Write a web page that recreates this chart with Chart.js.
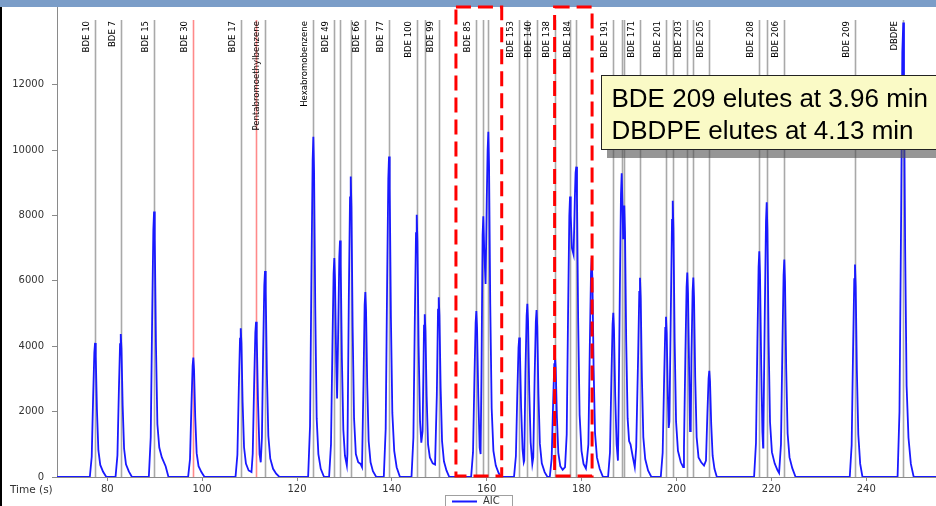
<!DOCTYPE html>
<html>
<head>
<meta charset="utf-8">
<title>AIC</title>
<script src="https://cdn.jsdelivr.net/npm/chart.js@4/dist/chart.umd.min.js"></script>
<style>
  html, body { margin: 0; padding: 0; background: #fff; }
  #wrap { width: 936px; height: 506px; }
</style>
</head>
<body>
<div id="wrap"><canvas id="chart" width="936" height="506"></canvas></div>
<script>
// axis ticks
const xTicks = [80, 100, 120, 140, 160, 180, 200, 220, 240];
const yTicks = [0, 2000, 4000, 6000, 8000, 10000, 12000];

// compound retention times (s) and their labels ('' = unlabelled line)
const markerTimes = [77.42, 82.84, 89.86, 98.14, 108.13, 111.36, 113.25, 123.44, 127.86, 129.06,
  131.32, 134.40, 139.39, 145.23, 146.92, 149.87, 157.80, 159.27, 160.33, 166.84,
  168.55, 170.49, 174.38, 177.55, 178.87, 186.67, 188.44, 188.99, 192.30, 197.78,
  199.20, 202.27, 203.54, 206.91, 217.45, 219.01, 222.72, 237.62, 247.80];
const markerLabels = ['BDE 10', 'BDE 7', 'BDE 15', 'BDE 30', 'BDE 17', '', 'Pentabromoethylbenzene', 'Hexabromobenzene', 'BDE 49', '',
  '', 'BDE 66', 'BDE 77', 'BDE 100', '', 'BDE 99', 'BDE 85', '', '', 'BDE 153',
  '', 'BDE 140', 'BDE 138', '', 'BDE 184', 'BDE 191', '', '', 'BDE 171', 'BDE 201',
  '', 'BDE 203', '', 'BDE 205', 'BDE 208', '', 'BDE 206', 'BDE 209', 'DBDPE'];
const redMarkerTimes = [98.14, 111.36];

// highlighted windows (s)
const highlightRanges = [[153.5, 163.15], [174.3, 182.2]];

const noteLines = ['BDE 209 elutes at 3.96 min', 'DBDPE elutes at 4.13 min'];

// AIC trace: [time (s), counts]
const aicTrace = [
  [69.4, 0],
  // BDE 10, 7, 15, 30
  [76.32, 0], [76.72, 620], [77.02, 2460], [77.27, 3810], [77.42, 4100], [77.57, 3690], [77.82, 2050], [78.12, 820], [78.52, 370], [79.12, 160], [79.8, 0],
  [81.74, 0], [82.14, 660], [82.44, 2620], [82.69, 4060], [82.84, 4370], [82.99, 3930], [83.24, 2190], [83.54, 870], [83.94, 390], [84.54, 170], [85.2, 0],
  [88.76, 0], [89.16, 1220], [89.46, 4870], [89.71, 7550], [89.86, 8120], [90.01, 7300], [90.26, 4060], [90.56, 1620], [90.96, 900], [91.5, 600], [92.3, 330], [92.9, 0],
  [97.04, 0], [97.44, 550], [97.74, 2190], [97.99, 3400], [98.14, 3650], [98.29, 3290], [98.54, 1830], [98.84, 730], [99.24, 330], [99.84, 150], [100.5, 0],
  // BDE 17 / pentabromoethylbenzene
  [107.03, 0], [107.43, 680], [107.73, 2730], [107.98, 4230], [108.13, 4550], [108.28, 4100], [108.53, 2280], [108.83, 910], [109.23, 410], [109.8, 200], [110.4, 150],
  [110.66, 710], [110.96, 2850], [111.21, 4420], [111.36, 4750], [111.51, 4280], [111.76, 2380], [112.1, 700], [112.35, 450],
  [112.6, 1200], [112.85, 3800], [113.1, 5860], [113.25, 6300], [113.4, 5670], [113.65, 3150], [113.95, 1260], [114.35, 570], [114.95, 250], [115.6, 100], [116.3, 0],
  // hexabromobenzene
  [122.34, 0], [122.74, 1560], [123.04, 6240], [123.29, 9680], [123.44, 10405], [123.59, 9360], [123.84, 5200], [124.14, 1800], [124.5, 700], [125.0, 250], [125.7, 0],
  // BDE 49 .. BDE 66
  [126.76, 0], [127.16, 1000], [127.46, 4000], [127.71, 6230], [127.86, 6700], [128.01, 6030], [128.26, 3500], [128.45, 2400],
  [128.66, 4300], [128.91, 6720], [129.06, 7230], [129.21, 6500], [129.46, 3600], [129.76, 1450], [130.1, 650], [130.5, 350],
  [130.62, 700], [130.92, 5500], [131.17, 8550], [131.32, 9190], [131.47, 8270], [131.72, 4600], [132.02, 1800], [132.4, 700],
  [132.9, 450], [133.4, 400], [133.7, 300], [134.0, 2800], [134.25, 5260], [134.4, 5660], [134.55, 5100], [134.8, 2830],
  [135.1, 1100], [135.5, 450], [136.0, 180], [136.7, 0],
  // BDE 77
  [138.29, 0], [138.69, 1470], [138.99, 5880], [139.24, 9110], [139.39, 9800], [139.54, 8820], [139.79, 4900], [140.09, 1960], [140.49, 800], [141.0, 300], [141.7, 0],
  // BDE 100 / 99
  [144.13, 0], [144.53, 1200], [144.83, 4810], [145.08, 7460], [145.23, 8020], [145.38, 7220], [145.63, 4010], [145.93, 1700],
  [146.2, 1050], [146.47, 1400], [146.77, 4630], [146.92, 4975], [147.07, 4480], [147.32, 2490], [147.62, 1000], [148.0, 600],
  [148.6, 420], [149.1, 380], [149.47, 2500], [149.72, 5120], [149.87, 5500], [150.02, 4950], [150.27, 2750], [150.57, 1100],
  [150.97, 480], [151.5, 200], [152.1, 0],
  // BDE 85 window
  [156.7, 0], [157.1, 760], [157.4, 3050], [157.65, 4720], [157.8, 5076], [157.95, 4570], [158.2, 2540], [158.5, 900],
  [158.7, 700], [158.87, 3000], [159.12, 7400], [159.27, 7970], [159.45, 7000], [159.75, 5900], [160.0, 8500], [160.18, 10000],
  [160.33, 10560], [160.48, 9500], [160.73, 5300], [161.03, 2100], [161.4, 800], [161.9, 350], [162.5, 120], [163.0, 0],
  // BDE 153 / 140
  [165.74, 0], [166.14, 640], [166.44, 2560], [166.69, 3960], [166.84, 4263], [166.99, 3840], [167.24, 2130], [167.54, 850],
  [167.8, 450], [167.9, 500], [168.15, 3200], [168.4, 4930], [168.55, 5300], [168.7, 4770], [168.95, 2650], [169.25, 1060],
  [169.6, 400], [169.8, 600], [170.09, 3060], [170.34, 4750], [170.49, 5106], [170.64, 4600], [170.89, 2550], [171.19, 1020],
  [171.6, 420], [172.2, 150], [172.8, 0],
  // BDE 138 / 184 window
  [173.28, 0], [173.68, 560], [173.98, 2220], [174.23, 3450], [174.38, 3706], [174.53, 3340], [174.78, 1850], [175.08, 740],
  [175.5, 330], [176.0, 220], [176.5, 300], [176.85, 1300], [177.15, 5150], [177.4, 7980], [177.55, 8578], [177.7, 8000],
  [177.95, 7000], [178.3, 6800], [178.58, 8600], [178.72, 9300], [178.87, 9491], [179.02, 8540], [179.27, 4750], [179.57, 1900],
  [179.97, 800], [180.4, 400], [180.9, 260], [181.1, 500], [181.42, 1000], [181.72, 4000], [181.97, 6230], [182.12, 6700],
  [182.27, 6030], [182.52, 3350], [182.82, 1340], [183.22, 600], [183.8, 250], [184.5, 0],
  // BDE 191 / 171
  [185.57, 0], [185.97, 750], [186.27, 3010], [186.52, 4670], [186.67, 5024], [186.82, 4520], [187.07, 2510], [187.37, 1000],
  [187.65, 500], [187.74, 1400], [188.04, 5570], [188.29, 8640], [188.44, 9287], [188.6, 8400], [188.75, 7300], [188.88, 7900],
  [188.99, 8300], [189.14, 7500], [189.39, 4200], [189.69, 1800], [190.0, 1100], [190.3, 1000], [190.8, 600], [191.2, 300],
  [191.5, 900], [191.9, 3650], [192.15, 5660], [192.3, 6090], [192.45, 5480], [192.7, 3050], [193.0, 1220], [193.4, 550],
  [194.0, 200], [194.7, 0],
  // BDE 201 .. 205
  [196.68, 0], [197.08, 740], [197.38, 2940], [197.63, 4560], [197.78, 4900], [197.93, 4410], [198.18, 2450], [198.35, 1500],
  [198.5, 1700], [198.8, 5070], [199.05, 7860], [199.2, 8450], [199.35, 7600], [199.6, 4230], [199.9, 1700], [200.3, 800],
  [200.9, 450], [201.4, 300], [201.57, 900], [201.87, 3750], [202.12, 5810], [202.27, 6250], [202.42, 5630], [202.67, 3130],
  [202.85, 1400], [203.0, 1500], [203.14, 3660], [203.39, 5670], [203.54, 6100], [203.69, 5490], [203.94, 3050], [204.24, 1220],
  [204.64, 600], [205.2, 450], [205.8, 350], [206.21, 500], [206.51, 1950], [206.76, 3020], [206.91, 3250], [207.06, 2930],
  [207.31, 1630], [207.61, 650], [208.0, 250], [208.5, 0],
  // BDE 208 / 206
  [216.35, 0], [216.75, 1040], [217.05, 4140], [217.3, 6420], [217.45, 6900], [217.6, 6210], [217.85, 3450], [218.1, 1400],
  [218.25, 900], [218.31, 1260], [218.61, 5040], [218.86, 7810], [219.01, 8400], [219.16, 7560], [219.41, 4200], [219.71, 1680],
  [220.11, 760], [220.7, 410], [221.3, 200], [221.62, 120], [222.02, 1000], [222.32, 3990], [222.57, 6180], [222.72, 6650],
  [222.87, 5990], [223.12, 3330], [223.42, 1330], [223.82, 600], [224.4, 270], [225.1, 0],
  // BDE 209
  [236.52, 0], [236.92, 980], [237.22, 3900], [237.47, 6050], [237.62, 6500], [237.77, 5850], [238.02, 3250], [238.32, 1300], [238.72, 400], [239.2, 0],
  // DBDPE
  [246.6, 0], [247.0, 2000], [247.35, 8000], [247.6, 13000], [247.8, 13900], [247.95, 12000], [248.2, 6950], [248.5, 2800],
  [248.9, 1200], [249.4, 400], [250.0, 0],
  [254.7, 0]
];

const TRACE_BLUE = 'rgb(25,25,255)';
const AXIS_GREY = '#8a8a8a';

// page frame: header strip, dark left edge, y axis line running up to the strip
const framePlugin = {
  id: 'frame',
  beforeDraw(chart) {
    const c = chart.ctx, area = chart.chartArea;
    c.save();
    c.fillStyle = '#fff';
    c.fillRect(0, 0, chart.width, chart.height);
    c.fillStyle = '#7b9dc8';
    c.fillRect(0, 0, chart.width, 7);
    c.fillStyle = '#000';
    c.fillRect(0, 7, 2, chart.height - 7);
    c.strokeStyle = AXIS_GREY;
    c.lineWidth = 1;
    c.beginPath();
    c.moveTo(area.left + 0.5, 7);
    c.lineTo(area.left + 0.5, area.top + 1);
    c.stroke();
    c.restore();
  }
};

// vertical retention-time lines with rotated compound names
const markerPlugin = {
  id: 'markers',
  beforeDatasetsDraw(chart) {
    const c = chart.ctx, xs = chart.scales.x, ys = chart.scales.y;
    const top = 20, bottom = ys.getPixelForValue(0);
    c.save();
    markerTimes.forEach((t, i) => {
      const x = Math.round(xs.getPixelForValue(t)) + 0.5;
      const red = redMarkerTimes.includes(t);
      c.strokeStyle = red ? '#ff8a8a' : '#a9a9a9';
      c.lineWidth = 1.6;
      c.beginPath();
      c.moveTo(x, top);
      c.lineTo(x, bottom);
      c.stroke();
      if (markerLabels[i]) {
        c.save();
        c.translate(x - 9, top + 1);
        c.rotate(-Math.PI / 2);
        c.font = '9.5px "DejaVu Sans Condensed", "DejaVu Sans", sans-serif';
        c.fillStyle = '#000';
        c.textAlign = 'right';
        c.textBaseline = 'middle';
        c.fillText(markerLabels[i], 0, 0);
        c.restore();
      }
    });
    c.restore();
  }
};

// dashed highlight windows, note box, axis caption and legend
const overlayPlugin = {
  id: 'overlay',
  afterDatasetsDraw(chart) {
    const c = chart.ctx, xs = chart.scales.x, area = chart.chartArea;
    c.save();

    c.strokeStyle = '#ff0000';
    c.lineWidth = 3;
    c.setLineDash([15, 7]);
    highlightRanges.forEach(([a, b]) => {
      const x1 = xs.getPixelForValue(a), x2 = xs.getPixelForValue(b);
      c.strokeRect(x1, 7, x2 - x1, area.bottom - 8);
    });
    c.setLineDash([]);

    // note box
    c.fillStyle = 'rgba(80,80,80,0.6)';
    c.fillRect(607, 150, 340, 8);
    c.fillStyle = '#fafac6';
    c.fillRect(601.5, 75.5, 340, 74);
    c.strokeStyle = '#222';
    c.lineWidth = 1;
    c.strokeRect(601.5, 75.5, 340, 74);
    c.fillStyle = '#000';
    c.font = '26px "Liberation Sans", Arial, sans-serif';
    c.textAlign = 'left';
    c.textBaseline = 'alphabetic';
    c.fillText(noteLines[0], 611.5, 107);
    c.fillText(noteLines[1], 611.5, 138.5);

    // axis caption
    c.font = '10.5px "DejaVu Sans", sans-serif';
    c.fillStyle = '#333';
    c.textBaseline = 'middle';
    c.fillText('Time (s)', 10, 490);

    // legend
    c.fillStyle = '#fff';
    c.fillRect(445.5, 495.5, 67, 14);
    c.strokeStyle = '#a0a0a0';
    c.strokeRect(445.5, 495.5, 67, 14);
    c.strokeStyle = TRACE_BLUE;
    c.lineWidth = 2;
    c.beginPath();
    c.moveTo(452, 501.5);
    c.lineTo(477, 501.5);
    c.stroke();
    c.fillStyle = '#333';
    c.font = '10px "DejaVu Sans", sans-serif';
    c.fillText('AIC', 483, 501);

    c.restore();
  }
};

const axisFont = { family: 'DejaVu Sans', size: 10 };

new Chart(document.getElementById('chart').getContext('2d'), {
  type: 'line',
  data: {
    datasets: [{
      label: 'AIC',
      data: aicTrace.map(p => ({ x: p[0], y: p[1] })),
      borderColor: TRACE_BLUE,
      borderWidth: 1.8,
      pointRadius: 0,
      tension: 0,
      fill: false
    }]
  },
  options: {
    responsive: false,
    animation: false,
    layout: { autoPadding: false, padding: { top: 2, right: 0, bottom: 0, left: 0 } },
    plugins: {
      legend: { display: false },
      tooltip: { enabled: false }
    },
    scales: {
      x: {
        type: 'linear',
        min: 69.4,
        max: 254.7,
        afterBuildTicks: s => { s.ticks = xTicks.map(v => ({ value: v })); },
        afterFit: s => { s.height = 29; },
        ticks: { color: '#333', font: axisFont, padding: 2, maxRotation: 0, autoSkip: false, callback: v => String(v) },
        grid: { drawOnChartArea: false, drawTicks: true, tickLength: 4, color: AXIS_GREY },
        border: { color: AXIS_GREY, width: 1 }
      },
      y: {
        min: 0,
        max: 14160,
        afterBuildTicks: s => { s.ticks = yTicks.map(v => ({ value: v })); },
        afterFit: s => { s.width = 57; },
        ticks: { color: '#333', font: axisFont, padding: 8, autoSkip: false, callback: v => String(v) },
        grid: { drawOnChartArea: false, drawTicks: true, tickLength: 5, color: AXIS_GREY },
        border: { color: AXIS_GREY, width: 1 }
      }
    }
  },
  plugins: [framePlugin, markerPlugin, overlayPlugin]
});
</script>
</body>
</html>
